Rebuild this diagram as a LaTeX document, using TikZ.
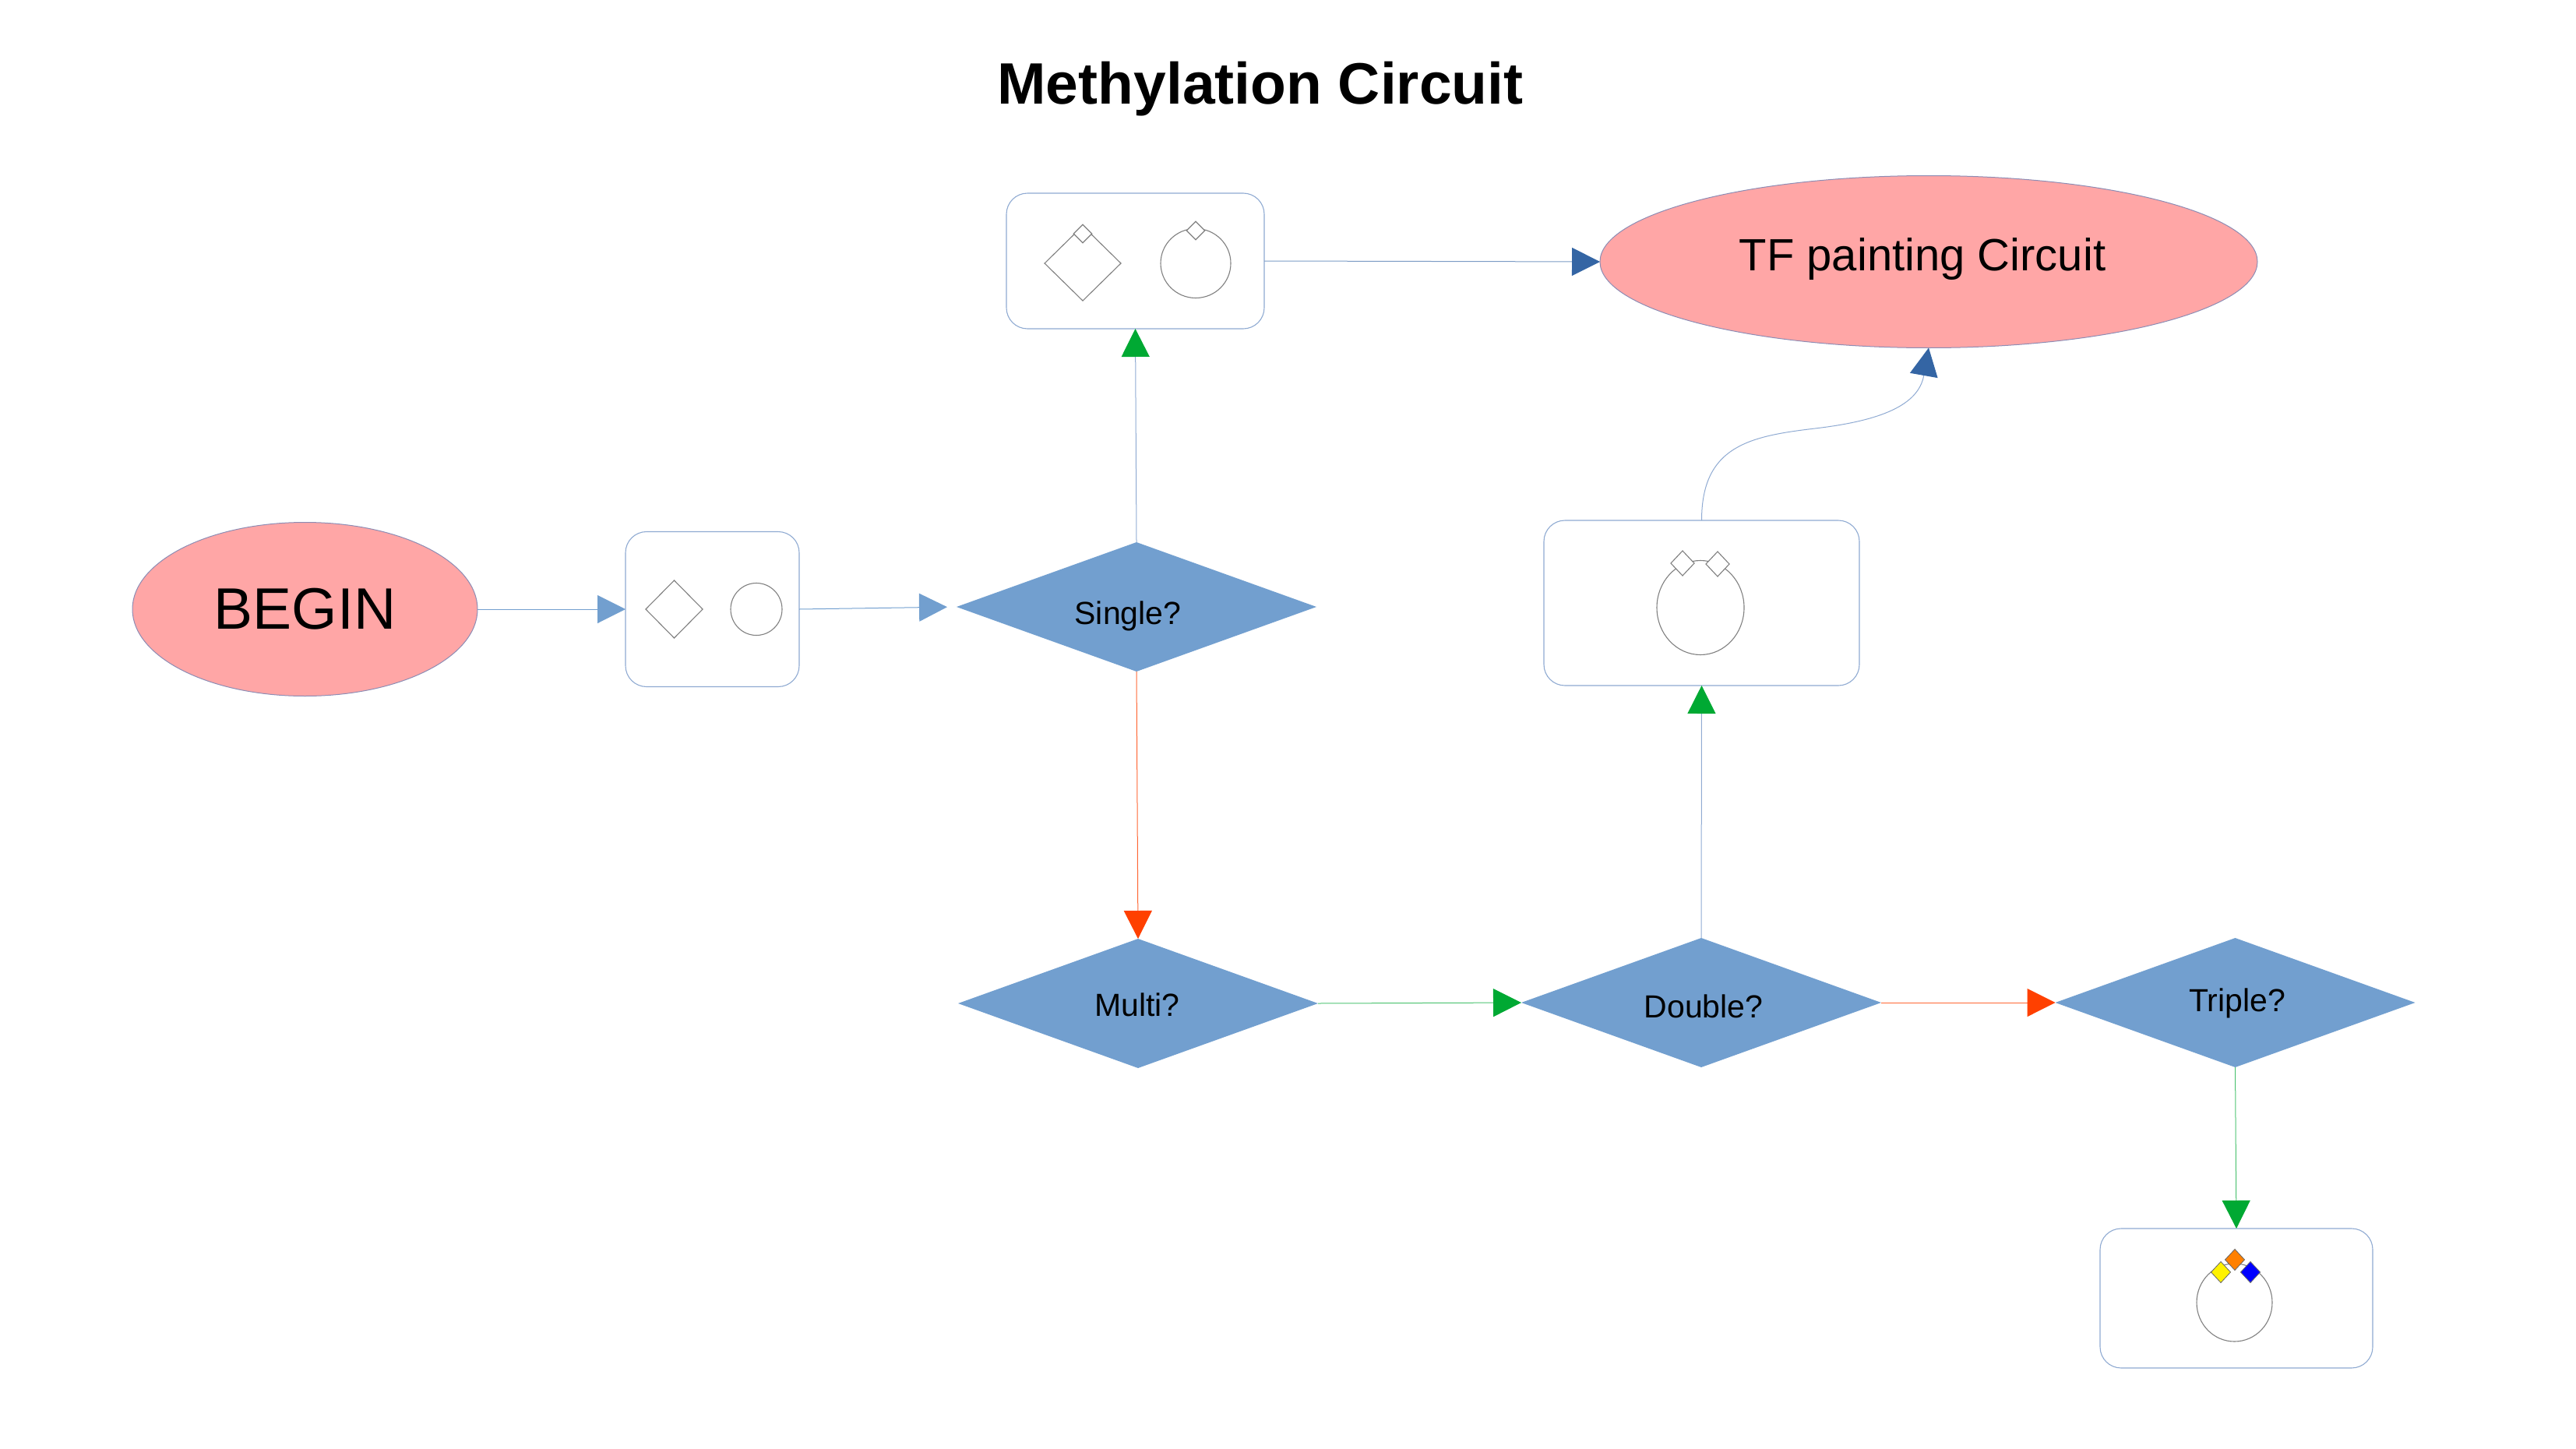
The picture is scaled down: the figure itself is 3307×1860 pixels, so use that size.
\documentclass[tikz,border=0pt]{standalone}
\usepackage{fontspec}
\setmainfont{Liberation Sans}
\usetikzlibrary{shapes.geometric,arrows.meta}
\definecolor{dblue}{HTML}{729FCF}
\definecolor{dkblue}{HTML}{3465A4}
\definecolor{tgreen}{HTML}{00A933}
\definecolor{tred}{HTML}{FF4000}
\definecolor{pinkfill}{HTML}{FFA6A6}
\definecolor{boxedge}{HTML}{8FAAD2}
\definecolor{ovaledge}{HTML}{8C8CB4}
\definecolor{glyph}{HTML}{808080}
\tikzset{
  every node/.style={inner sep=0pt,outer sep=0pt},
  decision/.style={shape=diamond,fill=dblue,minimum width=462pt,minimum height=166pt},
  oval/.style={shape=ellipse,fill=pinkfill,draw=ovaledge,line width=1pt},
  panel/.style={shape=rectangle,rounded corners=27pt,draw=boxedge,line width=1.1pt,fill=white},
  gdia/.style={shape=diamond,draw=glyph,fill=white,line width=1.1pt},
  gcirc/.style={shape=ellipse,draw=glyph,fill=white,line width=1.1pt},
  lab/.style={font=\fontsize{41}{49}\selectfont},
  con/.style={line width=1pt},
  tipb/.style={con,draw=dblue,-{Triangle[length=36pt,width=36pt,color=dblue]}},
  tipd/.style={con,draw=dkblue!65!white,-{Triangle[length=36pt,width=36pt,color=dkblue]}},
  tipg/.style={con,draw=tgreen!70!white,-{Triangle[length=36pt,width=36pt,color=tgreen]}},
  tipr/.style={con,draw=tred!80!white,-{Triangle[length=36pt,width=36pt,color=tred]}},
  tipgb/.style={con,draw=boxedge,-{Triangle[length=36pt,width=36pt,color=tgreen]}},
}
\begin{document}
\begin{tikzpicture}[x=1pt,y=-1pt]
\useasboundingbox (0,0) rectangle (3307,1860);
\node[font=\bfseries\fontsize{75}{90}\selectfont] (title) at (1618,114) {Methylation Circuit};

% ovals
\node[oval,minimum width=443pt,minimum height=223pt,font=\fontsize{75}{90}\selectfont] (begin) at (391.5,782) {BEGIN};
\node[oval,minimum width=844pt,minimum height=221pt] (tf) at (2476,336) {};
\node[font=\fontsize{58}{70}\selectfont] (tftext) at (2468,333) {TF painting Circuit};

% panels
\node[panel,minimum width=223pt,minimum height=199pt] (p1) at (914.5,782) {};
\node[panel,minimum width=331pt,minimum height=174pt] (p2) at (1457.5,335) {};
\node[panel,minimum width=405pt,minimum height=212pt] (p3) at (2184.5,774) {};
\node[panel,minimum width=350pt,minimum height=179pt] (p4) at (2871,1666.5) {};

% decisions
\node[decision] (single) at (1459,779) {};
\node[decision] (multi) at (1461,1288) {};
\node[decision] (double) at (2184,1287) {};
\node[decision] (triple) at (2869.5,1287) {};
\node[lab] (singlet) at (1448,791) {Single?};
\node[lab] (multit) at (1460,1290) {Multi?};
\node[lab] (doublet) at (2187,1292) {Double?};
\node[lab] (triplet) at (2872,1288) {Triple?};

% glyphs panel 1
\node[gdia,minimum width=73pt,minimum height=74pt] (a1) at (865.5,782) {};
\node[gcirc,minimum width=66pt,minimum height=67pt] (a2) at (971,782) {};
% glyphs panel 2
\node[gdia,minimum width=98pt,minimum height=96pt] (b1) at (1390,338) {};
\node[gdia,minimum width=23.5pt,minimum height=23.5pt] (b2) at (1390,300) {};
\node[gcirc,minimum width=90pt,minimum height=89pt] (b3) at (1535,338) {};
\node[gdia,minimum width=23.5pt,minimum height=23.5pt] (b4) at (1535,296) {};
% glyphs panel 3
\node[gcirc,minimum width=112pt,minimum height=121pt] (c1) at (2183,780) {};
\node[gdia,minimum width=30pt,minimum height=32pt] (c2) at (2160,723) {};
\node[gdia,minimum width=30pt,minimum height=32pt] (c3) at (2205,724) {};
% glyphs panel 4
\node[gcirc,minimum width=97pt,minimum height=100pt] (d1) at (2868.5,1672) {};
\node[shape=diamond,fill=yellow,draw=black!60,line width=0.8pt,minimum width=25pt,minimum height=27pt] (d2) at (2851,1633) {};
\node[shape=diamond,fill=orange!100!red,draw=black!60,line width=0.8pt,minimum width=25pt,minimum height=27pt] (d3) at (2869,1617) {};
\node[shape=diamond,fill=blue,draw=black!60,line width=0.8pt,minimum width=25pt,minimum height=27pt] (d4) at (2889,1633) {};

% connectors
\draw[tipb] (begin.east) -- (p1.west);
\draw[tipb,shorten >=12pt] (p1.east) -- (single.west);
\draw[tipgb] (single.north) -- (p2.south);
\draw[tipd] (p2.east) -- (tf.west);
\draw[tipr] (single.south) -- (multi.north);
\draw[tipg] (multi.east) -- (double.west);
\draw[tipr] (double.east) -- (triple.west);
\draw[tipgb] (double.north) -- (p3.south);
\draw[tipg] (triple.south) -- (p4.north);
\draw[con,draw=boxedge,-{Triangle[length=36pt,width=36pt,color=dkblue]}]
  (p3.north) .. controls +(0,-95) and +(-85,10) .. (2330,550)
  .. controls +(85,-10) and (2463,520) .. (tf.south);
\end{tikzpicture}
\end{document}
